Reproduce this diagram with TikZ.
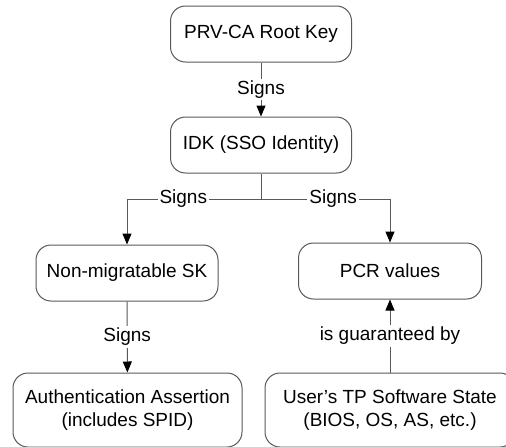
\documentclass[tikz,border=0pt]{standalone}
\usepackage{fontspec}
\setmainfont{Liberation Sans}
\usetikzlibrary{arrows.meta}

\begin{document}
\begin{tikzpicture}[x=1pt,y=-1pt,
        box/.style={draw=black!65,line width=1pt,rounded corners=15pt,align=center,
            font=\fontsize{19}{23}\selectfont},
        lbl/.style={fill=white,inner sep=2pt,font=\fontsize{19}{23}\selectfont},
        link/.style={draw=black!65,line width=1pt},
        arr/.style={link,-{Triangle[length=11pt,width=9pt,black]}}]
        \clip (0,0) rectangle (506,447);

        \def\w{181} % width of the small boxes
        \def\h{56} % height of the small boxes

        % Top chain
        \node[box,minimum width=\w,minimum height=\h] (root) at (261,34) {PRV-CA Root Key};
        \node[box,minimum width=\w,minimum height=\h] (idk) at (261,145) {IDK (SSO Identity)};

        % Second row
        \node[box,minimum width=182,minimum height=\h] (sk) at (127,273) {Non-migratable SK};
        \node[box,minimum width=183,minimum height=\h] (pcr) at (390,271) {PCR values};

        % Bottom row
        \node[box,minimum width=229,minimum height=74] (auth) at (127.5,410)
            {Authentication Assertion\\(includes SPID)};
        \node[box,minimum width=250,minimum height=74] (state) at (390,410)
            {User’s TP Software State\\(BIOS, OS, AS, etc.)};

        % Branch point under IDK
        \coordinate (split) at (261,199);

        % Connectors
        \draw[arr] (root) -- node[lbl] {Signs} (idk);
        \draw[link] (idk) -- (split);
        \draw[arr] (split) -| node[lbl,pos=0.29] {Signs} (sk);
        \draw[arr] (split) -| node[lbl,pos=0.28] {Signs} (pcr);
        \draw[arr] (sk) -- node[lbl] {Signs} (auth);
        \draw[arr] (state) -- node[lbl] {is guaranteed by} (pcr);
    \end{tikzpicture}
\end{document}
